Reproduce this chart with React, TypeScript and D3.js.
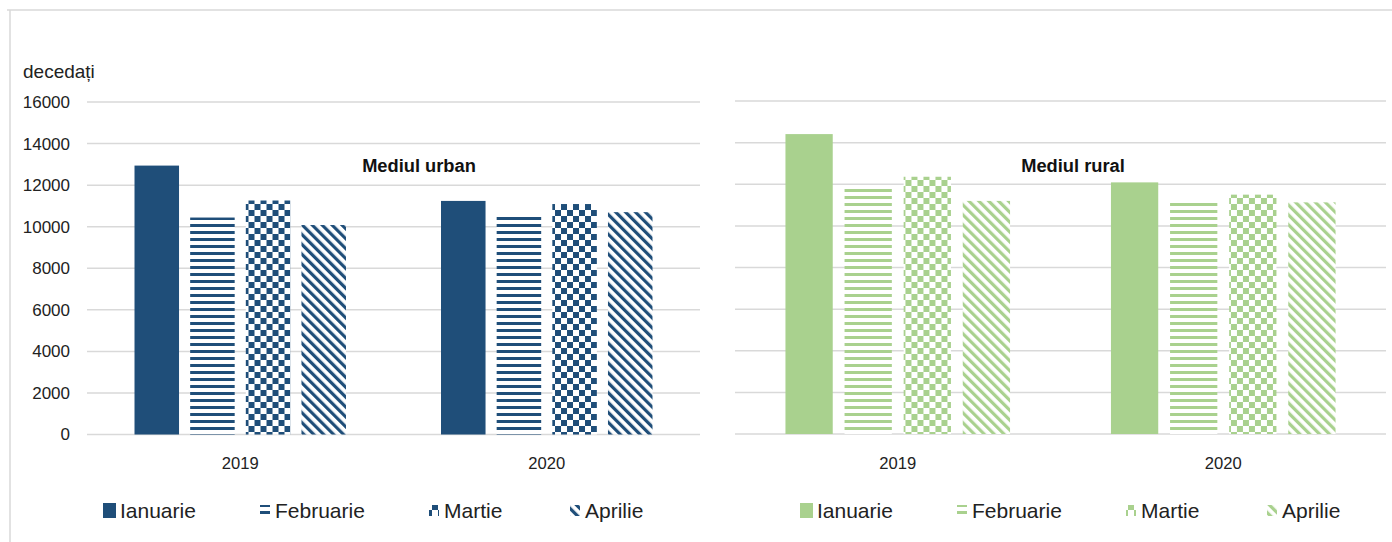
import React, { useEffect, useRef } from 'react';
import * as d3 from 'd3';

// values (deceased per month)
const years = ['2019', '2020'];
const months = ['Ianuarie', 'Februarie', 'Martie', 'Aprilie'];
const urban2019 = [12940, 10440, 11260, 10080];
const urban2020 = [11240, 10560, 11090, 10700];
const rural2019 = [14410, 11820, 12360, 11200];
const rural2020 = [12090, 11130, 11500, 11130];
const yTicks = [0, 2000, 4000, 6000, 8000, 10000, 12000, 14000, 16000];

const panelTitles = ['Mediul urban', 'Mediul rural'];
const yLabel = 'decedați';

const BLUE = '#1F4E79';
const GREEN = '#A9D18E';
const GRID = '#D9D9D9';
const FONT = "'Liberation Sans', Arial, sans-serif";

function App() {
  const ref = useRef<SVGSVGElement>(null);

  useEffect(() => {
    const svg = d3.select(ref.current);
    svg.selectAll('*').remove();

    const defs = svg.append('defs');

    function makePatterns(key: string, color: string) {
      // horizontal stripes
      const h = defs.append('pattern').attr('id', `h-${key}`)
        .attr('patternUnits', 'userSpaceOnUse').attr('width', 8).attr('height', 7);
      h.append('rect').attr('width', 8).attr('height', 7).attr('fill', '#fff');
      h.append('rect').attr('width', 8).attr('height', 3).attr('fill', color);

      // checker board
      const c = defs.append('pattern').attr('id', `c-${key}`)
        .attr('patternUnits', 'userSpaceOnUse').attr('width', 12).attr('height', 12);
      c.append('rect').attr('width', 12).attr('height', 12).attr('fill', '#fff');
      c.append('rect').attr('width', 6).attr('height', 6).attr('fill', color);
      c.append('rect').attr('x', 6).attr('y', 6).attr('width', 6).attr('height', 6).attr('fill', color);

      // diagonal "\" stripes
      const d = defs.append('pattern').attr('id', `d-${key}`)
        .attr('patternUnits', 'userSpaceOnUse').attr('width', 7).attr('height', 7)
        .attr('patternTransform', 'rotate(-45)');
      d.append('rect').attr('width', 7).attr('height', 7).attr('fill', '#fff');
      d.append('rect').attr('width', 3.2).attr('height', 7).attr('fill', color);
    }
    makePatterns('u', BLUE);
    makePatterns('r', GREEN);

    const fillFor = (key: string, color: string) => (i: number) =>
      i === 0 ? color : `url(#${['', 'h', 'c', 'd'][i]}-${key})`;

    // outer frame
    svg.append('line').attr('x1', 7).attr('x2', 1392).attr('y1', 10).attr('y2', 10)
      .attr('stroke', GRID).attr('stroke-width', 1.5);
    svg.append('line').attr('x1', 10).attr('x2', 10).attr('y1', 10).attr('y2', 542)
      .attr('stroke', GRID).attr('stroke-width', 1.5);

    const panels = [
      { key: 'u', color: BLUE, x0: 87, x1: 700, yb: 434.5, yt: 102, vals: [urban2019, urban2020], title: panelTitles[0], tx: 419, showAxis: true, lx: 0 },
      { key: 'r', color: GREEN, x0: 735, x1: 1386, yb: 434, yt: 101, vals: [rural2019, rural2020], title: panelTitles[1], tx: 1073, showAxis: false, lx: 697 },
    ];

    panels.forEach(p => {
      const g = svg.append('g');
      const y = d3.scaleLinear().domain([0, 16000]).range([p.yb, p.yt]);
      const x = d3.scaleBand().domain(years).range([p.x0, p.x1]).paddingInner(0.31).paddingOuter(0.155);
      const xm = d3.scaleBand().domain(months).range([0, x.bandwidth()]).paddingInner(0.2);
      const fill = fillFor(p.key, p.color);

      g.selectAll('line.grid').data(yTicks).enter().append('line')
        .attr('class', 'grid')
        .attr('x1', p.x0).attr('x2', p.x1)
        .attr('y1', d => y(d)).attr('y2', d => y(d))
        .attr('stroke', GRID).attr('stroke-width', 1.5);

      if (p.showAxis) {
        g.selectAll('text.tick').data(yTicks).enter().append('text')
          .attr('class', 'tick')
          .attr('x', 70).attr('y', d => y(d)).attr('dy', '0.35em')
          .attr('text-anchor', 'end')
          .attr('font-family', FONT).attr('font-size', 17).attr('fill', '#222')
          .text(d => d);
        g.append('text').attr('x', 23).attr('y', 78)
          .attr('font-family', FONT).attr('font-size', 19).attr('fill', '#222')
          .text(yLabel);
      }

      years.forEach((yr, yi) => {
        const grp = g.append('g').attr('transform', `translate(${x(yr)},0)`);
        grp.selectAll('rect').data(p.vals[yi]).enter().append('rect')
          .attr('x', (d, i) => xm(months[i]) as number)
          .attr('y', d => y(d))
          .attr('width', xm.bandwidth())
          .attr('height', d => p.yb - y(d))
          .attr('fill', (d, i) => fill(i));

        g.append('text')
          .attr('x', (x(yr) as number) + x.bandwidth() / 2).attr('y', 469)
          .attr('text-anchor', 'middle')
          .attr('font-family', FONT).attr('font-size', 16.6).attr('fill', '#222')
          .text(yr);
      });

      g.append('text').attr('x', p.tx).attr('y', 172)
        .attr('text-anchor', 'middle')
        .attr('font-family', FONT).attr('font-size', 18.3).attr('font-weight', 'bold').attr('fill', '#111')
        .text(p.title);

      // legend
      const legendX = [120, 275, 444, 585];
      months.forEach((m, i) => {
        const lx = legendX[i] + p.lx;
        g.append('rect')
          .attr('x', i === 0 ? lx - 17 : lx - 15).attr('y', i === 0 ? 503 : 505)
          .attr('width', i === 0 ? 13 : 10).attr('height', i === 0 ? 15 : 11)
          .attr('fill', fill(i));
        g.append('text').attr('x', lx).attr('y', 518)
          .attr('font-family', FONT).attr('font-size', 21).attr('fill', '#222')
          .text(m);
      });
    });
  }, []);

  return (
    <svg ref={ref} width={1392} height={542}
      style={{ position: 'absolute', left: 0, top: 0, background: '#fff' }} />
  );
}

export default App;
